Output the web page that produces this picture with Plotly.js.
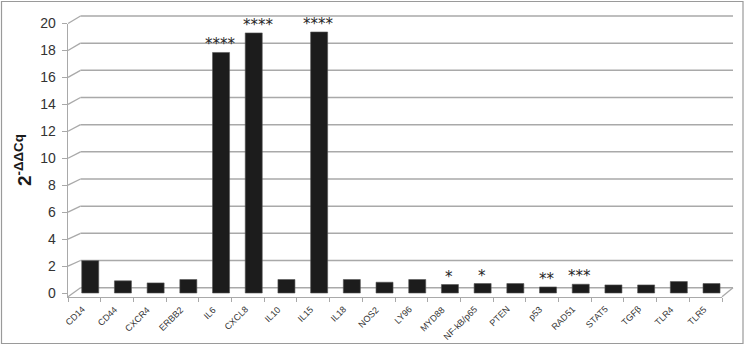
<!DOCTYPE html>
<html>
<head>
<meta charset="utf-8">
<script src="https://cdn.plot.ly/plotly-3.0.1.min.js"></script>
<style>
html,body{margin:0;padding:0;background:#fff;}
#chart{width:750px;height:345px;}
</style>
</head>
<body>
<div id="chart"></div>
<script>
// ---- data ----
const genes = ["CD14","CD44","CXCR4","ERBB2","IL6","CXCL8","IL10","IL15","IL18","NOS2","LY96","MYD88","NF-kB/p65","PTEN","p53","RAD51","STAT5","TGFβ","TLR4","TLR5"];
const foldChange = [2.4,0.9,0.75,1.0,17.85,19.3,1.0,19.37,1.0,0.8,1.0,0.63,0.7,0.7,0.45,0.65,0.6,0.6,0.85,0.7];
const significance = ["","","","","****","****","","****","","","","*","*","","**","***","","","",""];
const yTicks = [0,2,4,6,8,10,12,14,16,18,20];

// category positions derived from the category list
const catPos = genes.map((g, i) => i);
const catBounds = genes.map((g, i) => i - 0.5).concat([genes.length - 0.5]);

// ---- geometry (pixels) ----
const FW = 750, FH = 345;
const L = 68, R = 17, T = 10, B = 45;
const W = FW - L - R, H = FH - T - B;
const px = x => (x - L) / W;
const py = y => (FH - B - y) / H;

const yFront0 = 293, yFront20 = 23.5;
const yBack0 = 287.7, yBack20 = 16;
const xBackL = 80.5, xBackR = 733;
const xFrontR = 722, yFloorFront = 296.7;
const pxPerUnit = (yFront0 - yFront20) / 20;
const yMin = -(yFloorFront - yFront0) / pxPerUnit;

const gridCol = '#a9a9a9';
const shapes = [];
yTicks.forEach(v => {
  const yb = yBack0 - v * (yBack0 - yBack20) / 20;
  const yf = v === 0 ? yFloorFront : yFront0 - v * pxPerUnit;
  shapes.push({type:'line', xref:'paper', yref:'paper', x0:px(L), y0:py(yf), x1:px(xBackL), y1:py(yb), line:{color:gridCol, width:1.3}, layer:'below'});
  shapes.push({type:'line', xref:'paper', yref:'paper', x0:px(xBackL), y0:py(yb), x1:px(xBackR), y1:py(yb), line:{color:gridCol, width:1.5}, layer:'below'});
});
shapes.push({type:'line', xref:'paper', yref:'paper', x0:px(xFrontR), y0:py(yFloorFront), x1:px(xBackR), y1:py(yBack0), line:{color:gridCol, width:1.3}, layer:'below'});
shapes.push({type:'rect', xref:'paper', yref:'paper', x0:px(1.5), y0:py(343.5), x1:px(743), y1:py(1.5), line:{color:'#9a9a9a', width:1.2}, fillcolor:'rgba(0,0,0,0)', layer:'below'});

// significance stars
const starAnn = genes.map((g, i) => significance[i] ? {
  x: catPos[i], y: foldChange[i], xref:'x', yref:'y',
  text: significance[i],
  showarrow:false, yanchor:'middle', yshift: 8, xshift: g === 'CXCL8' ? 11 : 5,
  font:{family:'DejaVu Sans, sans-serif', size:15, color:'#262626'}
} : null).filter(a => a);

// rotated category labels
const labelAnn = genes.map((g, i) => ({
  x: catPos[i], y: py(303), xref:'x', yref:'paper',
  text: g, textangle: -45, showarrow:false,
  xanchor:'right', yanchor:'top', xshift: 4, borderpad:0,
  font:{family:'Liberation Sans Narrow, Liberation Sans, Arial, sans-serif', size:9, color:'#333'}
}));

const trace = {
  type:'bar', x: catPos, y: foldChange, base: 0,
  width: 0.52, offset: -0.08,
  marker:{color:'#1c1c1c', line:{color:'#555', width:0.6}},
  hovertext: genes, hoverinfo:'text+y'
};

const layout = {
  width: FW, height: FH,
  margin:{l:L, r:R, t:T, b:B, pad:0},
  paper_bgcolor:'#fff', plot_bgcolor:'rgba(0,0,0,0)',
  showlegend:false,
  font:{family:'Liberation Sans, Arial, sans-serif', color:'#333'},
  xaxis:{
    domain:[0, (xFrontR - L) / W],
    range:[-0.5, genes.length - 0.5],
    type:'linear', anchor:'y',
    showline:true, linecolor:gridCol, linewidth:1.3,
    tickmode:'array', tickvals: catBounds, showticklabels:false,
    ticks:'outside', ticklen:4, tickcolor:gridCol, tickwidth:1,
    showgrid:false, zeroline:false
  },
  yaxis:{
    domain:[py(yFloorFront), py(yFront20)],
    range:[yMin, 20], tickvals: yTicks,
    showline:true, linecolor:gridCol, linewidth:1.3,
    ticks:'outside', ticklen:5, tickcolor:gridCol, ticklabelstandoff: 3,
    tickfont:{size:14, color:'#333'},
    showgrid:false, zeroline:false,
    title:{text:'<b>2<sup>-ΔΔCq</sup></b>', font:{size:19, color:'#1a1a1a'}, standoff:3}
  },
  shapes: shapes,
  annotations: starAnn.concat(labelAnn)
};

Plotly.newPlot('chart', [trace], layout, {displayModeBar:false, staticPlot:true});
</script>
</body>
</html>
